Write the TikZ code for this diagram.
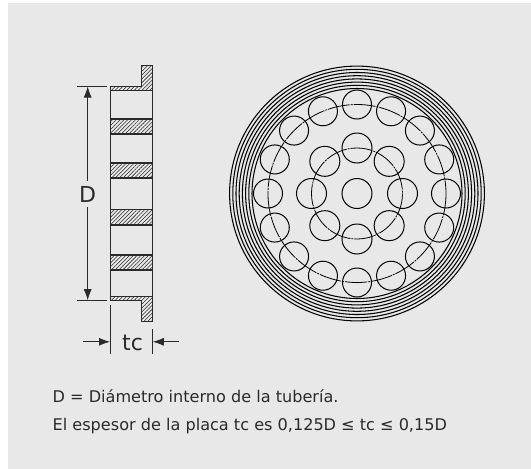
\documentclass[tikz,border=0pt]{standalone}
\usepackage{fontspec}
\setmainfont{DejaVu Sans}
\usetikzlibrary{patterns.meta,arrows.meta,calc}
\definecolor{bg}{HTML}{E8E8E8}
\definecolor{ink}{HTML}{2A2A2A}
\tikzset{
 x=1pt,y=-1pt,
 ring/.style={draw=black,line width=1.05pt},
 hole/.style={draw=black,line width=1pt},
 pitch/.style={draw=black,line width=0.8pt,dash pattern=on 22pt off 1pt on 2pt off 1pt},
 wall/.style={draw=ink,line width=1pt},
 thin/.style={draw=ink,line width=0.7pt},
 hatch/.style={pattern={Lines[angle=45,distance=2.7pt,line width=0.55pt]},pattern color=ink},
 dim/.style={draw=ink,line width=0.8pt},
 tip/.style={-{Latex[length=11pt,width=8pt]}},
 lab/.style={font=\fontsize{22}{26}\selectfont,text=ink,inner sep=0pt},
 note/.style={font=\fontsize{16.1}{19}\selectfont,text=ink,inner sep=0pt,anchor=base west}
}
\begin{document}
\begin{tikzpicture}
\useasboundingbox (0,0) rectangle (531,469);
\fill[white] (0,0) rectangle (531,469);
\fill[bg] (8,3) rectangle (531,469);
% side view
\draw[wall] (110,85.5) -- (110,301);
\draw[wall] (152.8,85.5) -- (152.8,301);
\foreach \t/\b in {119/134,163/178,209.5/225,255/270}{
  \path[hatch] (110,\t) rectangle (152.8,\b);
  \draw[wall,line width=1.2pt] (110,\t) -- (152.8,\t) (110,\b) -- (152.8,\b);
}
\path[hatch] (110,86) -- (141.3,86) -- (141.3,65.5) -- (152.8,65.5) -- (152.8,90) -- (110,90) -- cycle;
\draw[wall] (110,90) -- (110,86) -- (141.3,86) -- (141.3,65.5) -- (152.8,65.5) -- (152.8,90) -- cycle;
\path[hatch] (110,296.7) -- (152.8,296.7) -- (152.8,321.2) -- (141.3,321.2) -- (141.3,300.7) -- (110,300.7) -- cycle;
\draw[wall] (110,296.7) -- (152.8,296.7) -- (152.8,321.2) -- (141.3,321.2) -- (141.3,300.7) -- (110,300.7) -- cycle;
% dimensions
\coordinate (dtA) at (77,86); \coordinate (dtB) at (106.7,86);
\coordinate (dbA) at (77,300.7); \coordinate (dbB) at (106.7,300.7);
\draw[dim] (dtA) -- (dtB) (dbA) -- (dbB);
\node[lab] (D) at (87.7,194.5) {D};
\coordinate (dt) at (87.7,86.5); \coordinate (db) at (87.7,300.2);
\draw[dim,tip] (87.7,181) -- (dt);
\draw[dim,tip] (87.7,207) -- (db);
\draw[thin] (110,305) -- (110,354) (152.8,329) -- (152.8,354);
\node[lab] (tc) at (132.5,342.5) {tc};
\coordinate (tl) at (110,341.8); \coordinate (tr) at (152.8,341.8);
\draw[dim,tip] (83,341.8) -- (tl);
\draw[dim,tip] (179,341.8) -- (tr);
% front view
\coordinate (c) at (357,193.5);
\foreach \r in {105,108.2,111.4,114.6,117.8,121,124.2,127.4}{\draw[ring] (c) circle (\r);}
\draw[hole] (c) circle (15);
\foreach \i in {0,...,7}{\draw[hole] ($(c)+(\i*45:45.5)$) circle (15);}
\foreach \i in {0,...,15}{\draw[hole] ($(c)+(\i*22.5:89)$) circle (14.5);}
\draw[pitch] (c) circle (45.5);
\draw[pitch] (c) circle (89);
\node[note] (n1) at (52.5,402.3) {D = Diámetro interno de la tubería.};
\node[note] (n2) at (52.5,430) {El espesor de la placa tc es 0,125D ≤ tc ≤ 0,15D};
\end{tikzpicture}
\end{document}
